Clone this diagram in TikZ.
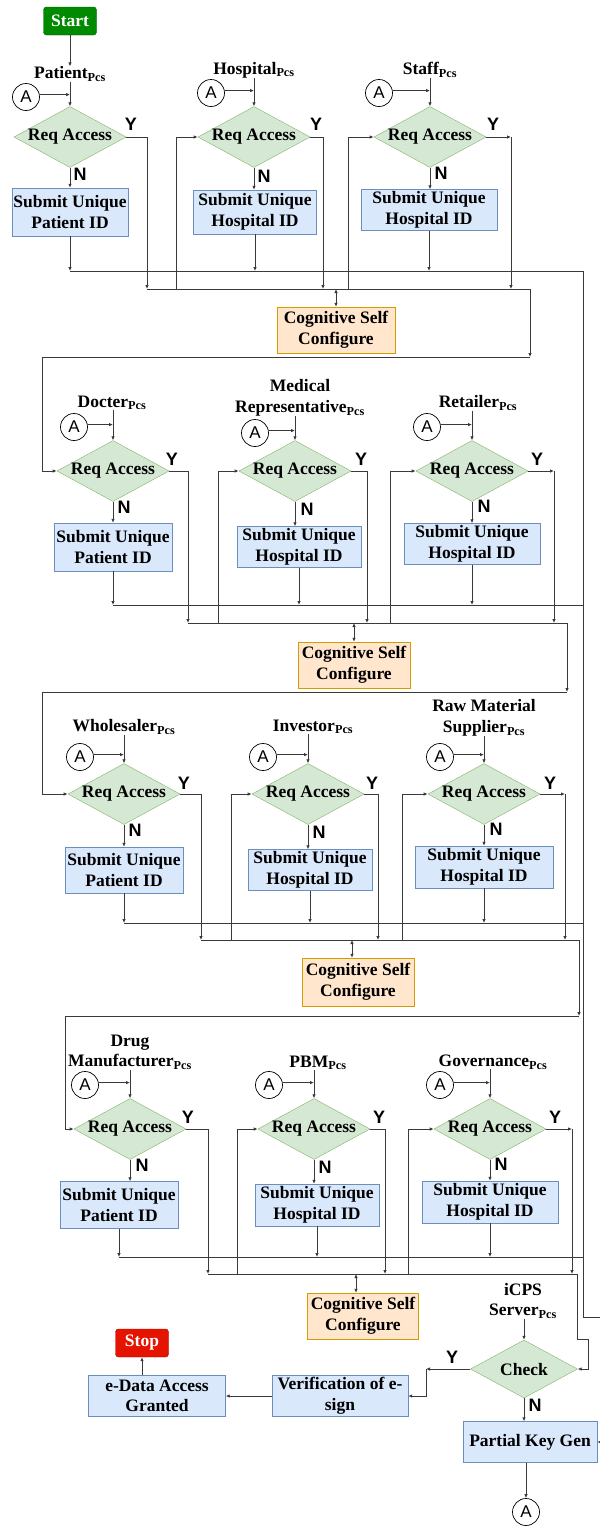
\documentclass[tikz,border=0pt]{standalone}
\usepackage{fontspec}
\setmainfont{Liberation Serif}
\newfontfamily\arialf{Liberation Sans}
\usetikzlibrary{shapes.geometric,arrows.meta,calc}

\definecolor{dgreenF}{HTML}{008A00}
\definecolor{dgreenD}{HTML}{005700}
\definecolor{redF}{HTML}{E51400}
\definecolor{redD}{HTML}{B20000}
\definecolor{diaF}{HTML}{D5E8D4}
\definecolor{diaD}{HTML}{82B366}
\definecolor{blueF}{HTML}{DAE8FC}
\definecolor{blueD}{HTML}{6C8EBF}
\definecolor{orgF}{HTML}{FFE6CC}
\definecolor{orgD}{HTML}{D79B00}
\definecolor{lineC}{HTML}{3A3A3A}

\tikzset{
 txtbase/.style={font=\fontsize{17.5}{20.5}\selectfont\bfseries, align=center, inner sep=0pt},
 term/.style={txtbase, rounded corners=3pt, text=white, minimum width=53pt, minimum height=28pt},
 startbox/.style={term, fill=dgreenF, draw=dgreenD},
 stopbox/.style={term, fill=redF, draw=redD},
 dia/.style={txtbase, diamond, fill=diaF, draw=diaD, minimum width=107pt, minimum height=58pt, aspect=1.84},
 sbox/.style={txtbase, rectangle, fill=blueF, draw=blueD},
 cog/.style={txtbase, rectangle, fill=orgF, draw=orgD},
 lbl/.style={txtbase},
 acirc/.style={circle, draw=black, line width=0.7pt, minimum size=27pt, inner sep=0pt, font=\arialf\fontsize{17}{17}\selectfont, fill=white},
 yn/.style={font=\arialf\bfseries\fontsize{18}{18}\selectfont, inner sep=0pt},
 ln/.style={draw=lineC, line width=0.8pt},
 arr/.style={ln, -{Latex[length=4pt,width=3.5pt]}},
 darr/.style={ln, {Latex[length=4pt,width=3.5pt]}-{Latex[length=4pt,width=3.5pt]}},
}

\begin{document}
\begin{tikzpicture}[x=1pt,y=-1pt]
\useasboundingbox (0,0) rectangle (600,1527);
\clip (0,0) rectangle (600,1527);

% ================= Start =================
\node[startbox] (start) at (70,21) {Start};

% ================= Row 1 =================
\node[lbl] (l11) at (70,74) {Patient\textsubscript{Pcs}};
\node[lbl] (l12) at (254,70) {Hospital\textsubscript{Pcs}};
\node[lbl] (l13) at (430,70) {Staff\textsubscript{Pcs}};
\node[dia] (d11) at (70,137) {Req Access};
\node[dia] (d12) at (254,137) {Req Access};
\node[dia] (d13) at (430,137) {Req Access};
\node[acirc] (a11) at (26,97) {A};
\node[acirc] (a12) at (211,93) {A};
\node[acirc] (a13) at (379,93) {A};
\node[sbox, minimum width=116pt, minimum height=48pt] (b11) at (70,212) {Submit Unique\\Patient ID};
\node[sbox, minimum width=123pt, minimum height=44pt] (b12) at (255,212) {Submit Unique\\Hospital ID};
\node[sbox, minimum width=136pt, minimum height=41pt] (b13) at (429,210) {Submit Unique\\Hospital ID};
\node[yn] (y11) at (131,124) {Y};
\node[yn] (y12) at (316,124) {Y};
\node[yn] (y13) at (493,124) {Y};
\node[yn] (n11) at (80,174) {N};
\node[yn] (n12) at (264,176) {N};
\node[yn] (n13) at (441,173) {N};
\node[cog, minimum width=118pt, minimum height=46pt] (cg1) at (336,330) {Cognitive Self\\Configure};

\coordinate (yb11) at (147,289);
\coordinate (yb12) at (323,289);
\coordinate (yc13) at (511,137);
\coordinate (yb13) at (511,289);
\coordinate (eb12) at (176,289);
\coordinate (eb13) at (348,289);
\coordinate (f11) at (70,271);
\coordinate (f12) at (255,271);
\coordinate (f13) at (429,271);
\coordinate (R1) at (583,271);
\coordinate (c1r) at (530,289);
\coordinate (c1d) at (530,357);
\coordinate (k1) at (42,357);

\draw[arr] (start) -- (l11);
\foreach \i in {11,12,13}{
  \draw[arr] (d\i.north |- l\i.south) -- (d\i.north);
  \draw[arr] (a\i.10) -- (a\i.10 -| d\i.north);
  \draw[arr] (d\i.south) -- (d\i.south |- b\i.north);
  \draw[arr] (b\i.south) -- (f\i);
}
\draw[arr] (d11.east) -| (yb11);
\draw[arr] (d12.east) -| (yb12);
\draw[arr] (d13.east) -- (yc13);
\draw[arr] (yc13) -- (yb13);
\draw[arr] (eb12) |- (d12.west);
\draw[arr] (eb13) |- (d13.west);
\draw[ln] (f11) -- (R1);
\draw[ln] (yb11) -- (c1r);
\draw[arr] (c1r) -- (c1d);
\draw[darr] (cg1.north |- yb11) -- (cg1.north);

% ================= Row 2 =================
\node[lbl] (l21) at (112,403) {Docter\textsubscript{Pcs}};
\node[lbl] (l22) at (300,398) {Medical\\Representative\textsubscript{Pcs}};
\node[lbl] (l23) at (478,403) {Retailer\textsubscript{Pcs}};
\node[dia] (d21) at (113,471) {Req Access};
\node[dia] (d22) at (295,471) {Req Access};
\node[dia] (d23) at (472,471) {Req Access};
\node[acirc] (a21) at (74,427) {A};
\node[acirc] (a22) at (255,433) {A};
\node[acirc] (a23) at (427,427) {A};
\node[sbox, minimum width=118pt, minimum height=48pt] (b21) at (113,547) {Submit Unique\\Patient ID};
\node[sbox, minimum width=124pt, minimum height=41pt] (b22) at (299,547) {Submit Unique\\Hospital ID};
\node[sbox, minimum width=136pt, minimum height=41pt] (b23) at (472,544) {Submit Unique\\Hospital ID};
\node[yn] (y21) at (172,459) {Y};
\node[yn] (y22) at (361,459) {Y};
\node[yn] (y23) at (537,459) {Y};
\node[yn] (n21) at (124,507) {N};
\node[yn] (n22) at (307,509) {N};
\node[yn] (n23) at (484,506) {N};
\node[cog, minimum width=112pt, minimum height=46pt] (cg2) at (354,665) {Cognitive Self\\Configure};

\coordinate (yb21) at (188,623);
\coordinate (yb22) at (367,623);
\coordinate (yc23) at (554,471);
\coordinate (yb23) at (554,623);
\coordinate (eb22) at (218,623);
\coordinate (eb23) at (390,623);
\coordinate (f21) at (113,605);
\coordinate (f22) at (299,605);
\coordinate (f23) at (472,605);
\coordinate (R2) at (583,605);
\coordinate (c2r) at (567,623);
\coordinate (c2d) at (567,692);
\coordinate (k2) at (42,692);

\draw[arr] (c1d) -- (k1) |- (d21.west);
\foreach \i in {21,22,23}{
  \draw[arr] (d\i.north |- l\i.south) -- (d\i.north);
  \draw[arr] (a\i.10) -- (a\i.10 -| d\i.north);
  \draw[arr] (d\i.south) -- (d\i.south |- b\i.north);
  \draw[arr] (b\i.south) -- (f\i);
}
\draw[arr] (d21.east) -| (yb21);
\draw[arr] (d22.east) -| (yb22);
\draw[arr] (d23.east) -- (yc23);
\draw[arr] (yc23) -- (yb23);
\draw[arr] (eb22) |- (d22.west);
\draw[arr] (eb23) |- (d23.west);
\draw[ln] (f21) -- (R2);
\draw[ln] (yb21) -- (c2r);
\draw[arr] (c2r) -- (c2d);
\draw[darr] (cg2.north |- yb21) -- (cg2.north);

% ================= Row 3 =================
\node[lbl] (l31) at (124,727) {Wholesaler\textsubscript{Pcs}};
\node[lbl] (l32) at (313,727) {Investor\textsubscript{Pcs}};
\node[lbl] (l33) at (484,718) {Raw Material\\Supplier\textsubscript{Pcs}};
\node[dia] (d31) at (124,794) {Req Access};
\node[dia] (d32) at (308,794) {Req Access};
\node[dia] (d33) at (484,794) {Req Access};
\node[acirc] (a31) at (80,757) {A};
\node[acirc] (a32) at (263,757) {A};
\node[acirc] (a33) at (440,757) {A};
\node[sbox, minimum width=118pt, minimum height=46pt] (b31) at (124,870) {Submit Unique\\Patient ID};
\node[sbox, minimum width=124pt, minimum height=41pt] (b32) at (310,870) {Submit Unique\\Hospital ID};
\node[sbox, minimum width=138pt, minimum height=42pt] (b33) at (484,867) {Submit Unique\\Hospital ID};
\node[yn] (y31) at (184,783) {Y};
\node[yn] (y32) at (372,783) {Y};
\node[yn] (y33) at (550,783) {Y};
\node[yn] (n31) at (135,830) {N};
\node[yn] (n32) at (319,832) {N};
\node[yn] (n33) at (496,829) {N};
\node[cog, minimum width=112pt, minimum height=48pt] (cg3) at (358,982) {Cognitive Self\\Configure};

\coordinate (yb31) at (201,940);
\coordinate (yb32) at (378,940);
\coordinate (yc33) at (565,794);
\coordinate (yb33) at (565,940);
\coordinate (eb32) at (231,940);
\coordinate (eb33) at (402,940);
\coordinate (f31) at (124,923);
\coordinate (f32) at (310,923);
\coordinate (f33) at (484,923);
\coordinate (R3) at (583,923);
\coordinate (c3r) at (579,940);
\coordinate (c3d) at (579,1016);
\coordinate (k3) at (65,1016);
\coordinate (cd3) at (352,940);

\draw[arr] (c2d) -- (k2) |- (d31.west);
\foreach \i in {31,32,33}{
  \draw[arr] (d\i.north |- l\i.south) -- (d\i.north);
  \draw[arr] (a\i.10) -- (a\i.10 -| d\i.north);
  \draw[arr] (d\i.south) -- (d\i.south |- b\i.north);
  \draw[arr] (b\i.south) -- (f\i);
}
\draw[arr] (d31.east) -| (yb31);
\draw[arr] (d32.east) -| (yb32);
\draw[arr] (d33.east) -- (yc33);
\draw[arr] (yc33) -- (yb33);
\draw[arr] (eb32) |- (d32.west);
\draw[arr] (eb33) |- (d33.west);
\draw[ln] (f31) -- (R3);
\draw[ln] (yb31) -- (c3r);
\draw[arr] (c3r) -- (c3d);
\draw[darr] (cd3) -- (cd3 |- cg3.north);

% ================= Row 4 =================
\node[lbl] (l41) at (130,1052) {Drug\\Manufacturer\textsubscript{Pcs}};
\node[lbl] (l42) at (318,1063) {PBM\textsubscript{Pcs}};
\node[lbl] (l43) at (493,1062) {Governance\textsubscript{Pcs}};
\node[dia] (d41) at (130,1129) {Req Access};
\node[dia] (d42) at (314,1129) {Req Access};
\node[dia] (d43) at (490,1129) {Req Access};
\node[acirc] (a41) at (85,1085) {A};
\node[acirc] (a42) at (269,1085) {A};
\node[acirc] (a43) at (440,1085) {A};
\node[sbox, minimum width=118pt, minimum height=47pt] (b41) at (119,1205) {Submit Unique\\Patient ID};
\node[sbox, minimum width=124pt, minimum height=42pt] (b42) at (317,1205) {Submit Unique\\Hospital ID};
\node[sbox, minimum width=136pt, minimum height=42pt] (b43) at (490,1202) {Submit Unique\\Hospital ID};
\node[yn] (y41) at (188,1117) {Y};
\node[yn] (y42) at (379,1117) {Y};
\node[yn] (y43) at (555,1117) {Y};
\node[yn] (n41) at (142,1165) {N};
\node[yn] (n42) at (325,1167) {N};
\node[yn] (n43) at (501,1164) {N};
\node[cog, minimum width=111pt, minimum height=46pt] (cg4) at (363,1316) {Cognitive Self\\Configure};

\coordinate (yb41) at (208,1274);
\coordinate (yb42) at (385,1274);
\coordinate (yc43) at (572,1129);
\coordinate (yb43) at (572,1274);
\coordinate (eb42) at (237,1274);
\coordinate (eb43) at (408,1274);
\coordinate (f41) at (131,1257);
\coordinate (f42) at (317,1257);
\coordinate (f43) at (490,1257);
\coordinate (R4) at (583,1257);
\coordinate (c4r) at (577,1274);
\coordinate (c4a) at (577,1339);
\coordinate (c4b) at (588,1339);
\coordinate (cd4) at (356,1274);

\draw[arr] (c3d) -- (k3) |- (d41.west);
\foreach \i in {41,42,43}{
  \draw[arr] (d\i.north |- l\i.south) -- (d\i.north);
  \draw[arr] (a\i.10) -- (a\i.10 -| d\i.north);
  \draw[arr] (d\i.south) -- (d\i.south |- b\i.north);
  \draw[arr] (b\i.south) -- (b\i.south |- f\i);
}
\draw[arr] (d41.east) -| (yb41);
\draw[arr] (d42.east) -| (yb42);
\draw[arr] (d43.east) -- (yc43);
\draw[arr] (yc43) -- (yb43);
\draw[arr] (eb42) |- (d42.west);
\draw[arr] (eb43) |- (d43.west);
\draw[ln] (b41.south |- f41) -- (R4);
\draw[ln] (yb41) -- (c4r);
\draw[darr] (cd4) -- (cd4 |- cg4.north);

% ================= Server part =================
\node[lbl] (icps) at (523,1301) {iCPS\\Server\textsubscript{Pcs}};
\node[dia] (chk) at (524,1369) {Check};
\node[yn] (yck) at (452,1357) {Y};
\node[yn] (nck) at (535,1405) {N};
\node[sbox, minimum width=134pt, minimum height=41pt] (pkg) at (530,1442) {Partial Key Gen};
\node[acirc] (abot) at (526,1512) {A};
\node[sbox, minimum width=136pt, minimum height=41pt] (ver) at (340,1396) {Verification of e-\\sign};
\node[sbox, minimum width=137pt, minimum height=41pt] (edata) at (157,1396) {e-Data Access\\Granted};
\node[stopbox] (stop) at (142,1343) {Stop};

\coordinate (yt) at (426,1369);
\coordinate (Rend) at (583,1317);
\coordinate (Rout) at (615,1317);
\coordinate (Rback) at (615,1442);

\draw[arr] (c4r) -- (c4a) -- (c4b) |- (chk.east);
\draw[arr] (chk.north |- icps.south) -- (chk.north);
\draw[arr] (chk.south) -- (chk.south |- pkg.north);
\draw[arr] (abot.north |- pkg.south) -- (abot.north);
\draw[arr] (chk.west) -- (yt);
\draw[arr] (yt) |- (ver.east);
\draw[arr] (ver.west) -- (edata.east);
\draw[arr] (stop.south |- edata.north) -- (stop.south);
\draw[arr] (R1) -- (Rend) -- (Rout) -- (Rback) -- (pkg.east);

\end{tikzpicture}
\end{document}
